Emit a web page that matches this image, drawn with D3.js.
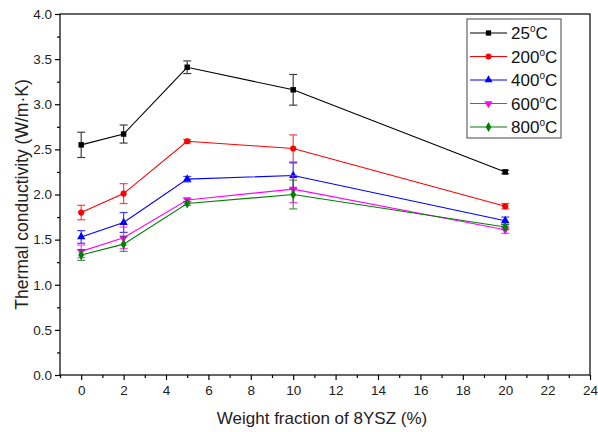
<!DOCTYPE html>
<html>
<head>
<meta charset="utf-8">
<script src="https://cdn.jsdelivr.net/npm/d3@7"></script>
<style>
  html, body { margin: 0; padding: 0; background: #fff; }
  svg { display: block; font-family: "Liberation Sans", Arial, sans-serif; }
</style>
</head>
<body>
<svg id="chart" width="598" height="432"></svg>
<script>
// Weight fraction of 8YSZ (%)
const fractions = [0, 2, 5, 10, 20];

// Series labels (temperature, °C)
const temperatures = ["25", "200", "400", "600", "800"];

// Thermal conductivity (W/m·K) per temperature
const k25  = [2.55, 2.67, 3.41, 3.16, 2.25];
const k200 = [1.80, 2.01, 2.59, 2.51, 1.87];
const k400 = [1.53, 1.69, 2.17, 2.21, 1.71];
const k600 = [1.37, 1.52, 1.94, 2.06, 1.61];
const k800 = [1.33, 1.45, 1.90, 2.00, 1.64];

// Standard deviations
const e25  = [0.14, 0.10, 0.07, 0.17, 0.02];
const e200 = [0.08, 0.11, 0.02, 0.15, 0.03];
const e400 = [0.07, 0.11, 0.03, 0.14, 0.04];
const e600 = [0.07, 0.12, 0.02, 0.15, 0.04];
const e800 = [0.06, 0.08, 0.02, 0.16, 0.03];

const xTicks = [0, 2, 4, 6, 8, 10, 12, 14, 16, 18, 20, 22, 24];
const yTicks = [0, 0.5, 1.0, 1.5, 2.0, 2.5, 3.0, 3.5, 4.0];

const colors = ["#000000", "#ff0000", "#0000ff", "#ff00ff", "#008000"];
const symbols = [d3.symbolSquare, d3.symbolCircle, d3.symbolTriangle, "triDown", d3.symbolDiamond];

const series = [
  { t: temperatures[0], v: k25,  e: e25 },
  { t: temperatures[1], v: k200, e: e200 },
  { t: temperatures[2], v: k400, e: e400 },
  { t: temperatures[3], v: k600, e: e600 },
  { t: temperatures[4], v: k800, e: e800 }
];

const svg = d3.select("#chart");
const L = 60, R = 590, T = 14, B = 375;

const x = d3.scaleLinear().domain([-1, 24]).range([L, R]);
const y = d3.scaleLinear().domain([0, 4]).range([B, T]);

// frame
svg.append("rect")
  .attr("x", L).attr("y", T).attr("width", R - L).attr("height", B - T)
  .attr("fill", "none").attr("stroke", "#000").attr("stroke-width", 1.2);

// x axis: major and minor ticks, outward
svg.append("g").attr("transform", `translate(0,${B})`)
  .call(d3.axisBottom(x).tickValues(xTicks).tickSize(5).tickPadding(5).tickFormat(d3.format("d")));
svg.append("g").attr("transform", `translate(0,${B})`)
  .call(d3.axisBottom(x).tickValues(d3.range(-1, 24, 2)).tickSize(3).tickFormat(""));

svg.append("g").attr("transform", `translate(${L},0)`)
  .call(d3.axisLeft(y).tickValues(yTicks).tickSize(5).tickPadding(3).tickFormat(d3.format(".1f")));
svg.append("g").attr("transform", `translate(${L},0)`)
  .call(d3.axisLeft(y).tickValues(d3.range(0.25, 4, 0.5)).tickSize(3).tickFormat(""));

svg.selectAll(".domain").remove();
svg.selectAll(".tick line").attr("stroke", "#000").attr("stroke-width", 1.2);
svg.selectAll(".tick text").attr("font-size", 13.5).attr("fill", "#222")
  .attr("font-family", "Liberation Sans, Arial, sans-serif");

// axis titles
svg.append("text")
  .attr("x", (L + R) / 2 - 3).attr("y", 424)
  .attr("text-anchor", "middle").attr("font-size", 17).attr("fill", "#222")
  .text("Weight fraction of 8YSZ (%)");
svg.append("text")
  .attr("transform", `translate(28,${(T + B) / 2}) rotate(-90)`)
  .attr("text-anchor", "middle").attr("font-size", 17.5).attr("fill", "#222")
  .text("Thermal conductivity (W/m·K)");

function symbolPath(sym, size) {
  if (sym === "triDown") {
    return d3.symbol(d3.symbolTriangle, size)();
  }
  return d3.symbol(sym, size)();
}
function symbolTransform(sym, cx, cy) {
  return sym === "triDown" ? `translate(${cx},${cy}) rotate(180)` : `translate(${cx},${cy})`;
}

const line = d3.line().x(d => x(d[0])).y(d => y(d[1]));

series.forEach((s, i) => {
  const g = svg.append("g");
  const pts = fractions.map((f, j) => [f, s.v[j], s.e[j]]);
  // line
  g.append("path").datum(pts).attr("d", line)
    .attr("fill", "none").attr("stroke", colors[i]).attr("stroke-width", 1.1);
  // error bars
  const eb = g.selectAll(".eb").data(pts).enter().append("g").attr("opacity", 0.75);
  eb.append("line")
    .attr("x1", d => x(d[0])).attr("x2", d => x(d[0]))
    .attr("y1", d => y(d[1] - d[2])).attr("y2", d => y(d[1] + d[2]))
    .attr("stroke", colors[i]).attr("stroke-width", 1.2);
  [-1, 1].forEach(sgn => {
    eb.append("line")
      .attr("x1", d => x(d[0]) - 4).attr("x2", d => x(d[0]) + 4)
      .attr("y1", d => y(d[1] + sgn * d[2])).attr("y2", d => y(d[1] + sgn * d[2]))
      .attr("stroke", colors[i]).attr("stroke-width", 1.2);
  });
  // markers
  g.selectAll(".m").data(pts).enter().append("path")
    .attr("d", symbolPath(symbols[i], 30))
    .attr("transform", d => symbolTransform(symbols[i], x(d[0]), y(d[1])))
    .attr("fill", colors[i]);
});

// legend
const lg = svg.append("g");
lg.append("rect").attr("x", 467).attr("y", 19).attr("width", 94).attr("height", 119)
  .attr("fill", "#fff").attr("stroke", "#666").attr("stroke-width", 1.2);
series.forEach((s, i) => {
  const cy = 33 + i * 23.5;
  lg.append("line").attr("x1", 470).attr("x2", 507).attr("y1", cy).attr("y2", cy)
    .attr("stroke", colors[i]).attr("stroke-width", 1.2);
  lg.append("path").attr("d", symbolPath(symbols[i], 28))
    .attr("transform", symbolTransform(symbols[i], 488.5, cy)).attr("fill", colors[i]);
  const tx = lg.append("text").attr("x", 511).attr("y", cy + 6)
    .attr("font-size", 17).attr("fill", "#111");
  tx.append("tspan").text(s.t);
  tx.append("tspan").attr("font-size", 10).attr("dy", -7).text("o");
  tx.append("tspan").attr("dy", 7).text("C");
});
</script>
</body>
</html>
